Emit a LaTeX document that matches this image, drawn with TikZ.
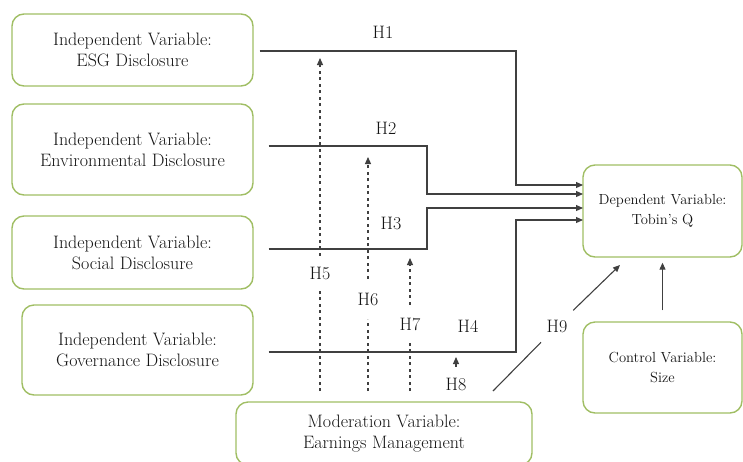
\documentclass[tikz,border=0pt]{standalone}
\usetikzlibrary{arrows.meta}
\definecolor{boxgreen}{RGB}{160,190,100}
\definecolor{linegray}{RGB}{64,64,64}
\definecolor{textgray}{RGB}{20,20,20}
\begin{document}
\begin{tikzpicture}[x=1pt,y=1pt,
  var/.style={draw=boxgreen,line width=1.4pt,rounded corners=12pt,align=center,text=textgray,font=\fontsize{18}{21}\selectfont,inner sep=0pt},
  smallvar/.style={var,font=\fontsize{14.6}{20}\selectfont},
  hyp/.style={draw=linegray,line width=1.1pt},
  tip/.style={-{Triangle[length=7pt,width=6pt]}},
  moder/.style={hyp,dash pattern=on 3pt off 3.5pt},
  lab/.style={font=\fontsize{18}{18}\selectfont,text=textgray,inner xsep=2pt,inner ysep=11pt}]
\useasboundingbox (0,0) rectangle (743,-461);
\node[var,minimum width=241pt,minimum height=72pt] (esg) at (132.5,-50) {Independent Variable:\\ESG Disclosure};
\node[var,minimum width=241pt,minimum height=91pt] (env) at (132.5,-149.5) {Independent Variable:\\Environmental Disclosure};
\node[var,minimum width=241pt,minimum height=73pt] (soc) at (132.5,-252.5) {Independent Variable:\\Social Disclosure};
\node[var,minimum width=231pt,minimum height=90pt] (gov) at (137.5,-350) {Independent Variable:\\Governance Disclosure};
\node[var,minimum width=296pt,minimum height=63pt] (mod) at (384,-433.5) {Moderation Variable:\\Earnings Management};
\node[smallvar,minimum width=159pt,minimum height=92pt] (dep) at (662.5,-211) {Dependent Variable:\\Tobin's Q};
\node[smallvar,minimum width=159pt,minimum height=91pt] (ctrl) at (662.5,-367.5) {Control Variable:\\Size};
\coordinate (k1) at (516,-185);
\coordinate (k2) at (427,-194);
\coordinate (k3) at (427,-208);
\coordinate (k4) at (516,-220);
\coordinate (q1) at (583,-185);
\coordinate (q2) at (583,-194);
\coordinate (q3) at (583,-208);
\coordinate (q4) at (583,-220);
\draw[hyp,tip] ([xshift=6pt,yshift=-1pt]esg.east) -| (k1) -- (q1);
\draw[hyp,tip] ([xshift=15pt,yshift=3.5pt]env.east) -| (k2) -- (q2);
\draw[hyp,tip] ([xshift=15pt,yshift=3.5pt]soc.east) -| (k3) -- (q3);
\draw[hyp,tip] ([xshift=15pt,yshift=-2pt]gov.east) -| (k4) -- (q4);
\node[lab] (h1) at (383,-32) {H1};
\node[lab] (h2) at (386,-128) {H2};
\node[lab] (h3) at (391,-223) {H3};
\node[lab] (h4) at (468,-326) {H4};
\node[lab] (h5) at (320,-273) {H5};
\node[lab,inner ysep=14pt] (h6) at (368,-299) {H6};
\node[lab,inner ysep=13pt] (h7) at (410,-324) {H7};
\node[lab] (h8) at (456,-384) {H8};
\node[lab] (h9) at (557,-326) {H9};
\coordinate (m5) at (320,-391);
\coordinate (m6) at (368,-391);
\coordinate (m7) at (410,-391);
\coordinate (m9) at (493,-391);
\coordinate (t5) at (320,-58);
\coordinate (t6) at (368,-157);
\coordinate (t7) at (410,-258);
\coordinate (t8) at (456,-357);
\coordinate (t9) at (620,-265);
\draw[moder] (m5) -- (h5);
\draw[moder,tip] (h5) -- (t5);
\draw[moder] (m6) -- (h6);
\draw[moder,tip] (h6) -- (t6);
\draw[moder] (m7) -- (h7);
\draw[moder,tip] (h7) -- (t7);
\draw[hyp,tip] (h8) -- (t8);
\draw[hyp,shorten >=5pt] (m9) -- (h9);
\draw[hyp,tip,shorten <=5pt] (h9) -- (t9);
\draw[hyp,tip,shorten <=11pt,shorten >=5pt] (ctrl) -- (dep);
\end{tikzpicture}
\end{document}
